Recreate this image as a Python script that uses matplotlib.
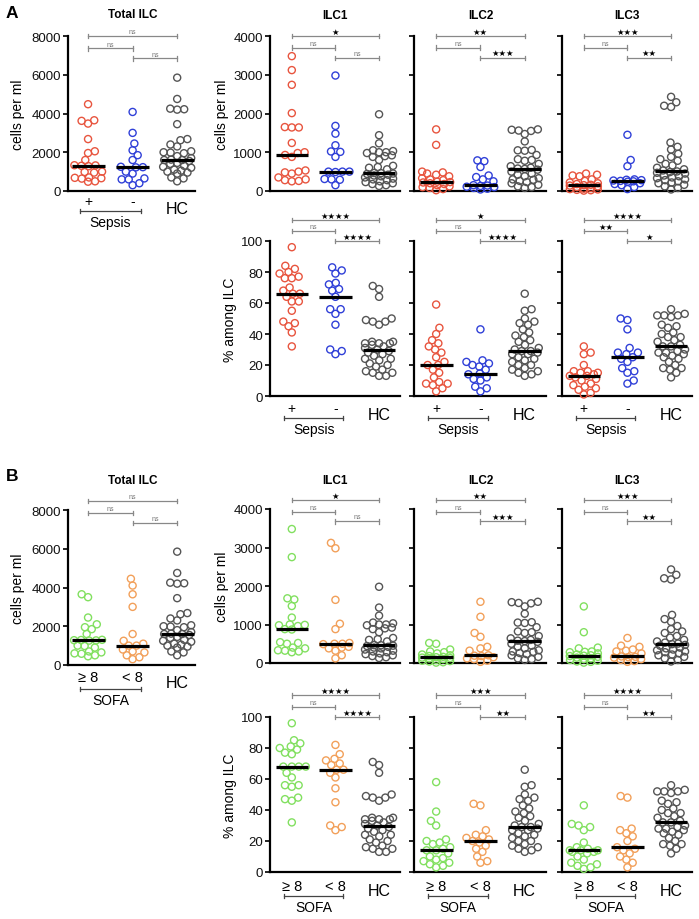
import numpy as np
import matplotlib
matplotlib.use("Agg")
import matplotlib.pyplot as plt
from matplotlib.transforms import blended_transform_factory

plt.rcParams['font.family'] = ['Liberation Sans', 'DejaVu Sans']

# ---------------- data ----------------
# cells per ml, Total ILC
tot_sep_pos = [4480, 3650, 3620, 3480, 2680, 2050, 1960, 1600, 1330, 1320, 1300, 1280, 1000, 980, 950, 700, 680, 660, 640, 500, 480]
tot_sep_neg = [4080, 3000, 2450, 2100, 1850, 1600, 1250, 1230, 1220, 1000, 900, 650, 600, 600, 400, 300]
tot_hc = [5850, 4750, 4250, 4220, 4200, 3450, 2680, 2620, 2400, 2300, 2050, 2000, 1980, 1950, 1800, 1700, 1620,
          1600, 1600, 1550, 1450, 1400, 1300, 1250, 1200, 1100, 1050, 1000, 950, 900, 700, 650, 500]
tot_sofa_hi = [3650, 3500, 2450, 2100, 1950, 1850, 1600, 1300, 1290, 1280, 1270, 1260, 1000, 980, 900, 700, 650, 600, 580, 500, 450]
tot_sofa_lo = [4450, 4100, 3650, 3000, 1600, 1250, 1100, 1000, 1000, 800, 700, 650, 500, 400, 300]

# cells per ml, ILC subsets
ilc1_pos = [3480, 3120, 2740, 2010, 1650, 1640, 1640, 1240, 1000, 980, 930, 880, 530, 500, 480, 450, 350, 300, 280, 260, 250]
ilc1_neg = [2980, 1680, 1480, 1180, 1020, 1010, 880, 500, 500, 500, 490, 310, 300, 290, 150]
ilc1_hc = [1980, 1440, 1230, 1050, 1030, 1000, 1000, 980, 920, 900, 880, 800, 650, 620, 600, 560, 465,
           440, 460, 450, 420, 400, 380, 350, 320, 300, 280, 250, 230, 200, 180, 150, 130]
ilc2_pos = [1590, 1190, 500, 480, 450, 420, 380, 330, 300, 280, 240, 230, 220, 200, 180, 150, 120, 100, 80, 50, 20]
ilc2_neg = [790, 770, 620, 400, 360, 300, 250, 150, 140, 130, 110, 100, 80, 60, 40]
ilc2_hc = [1590, 1580, 1560, 1550, 1470, 1280, 1060, 1050, 1040, 930, 820, 800, 780, 700, 640, 600, 580,
           570, 550, 500, 450, 420, 380, 330, 300, 290, 260, 230, 200, 160, 120, 100, 80]
ilc3_pos = [450, 420, 400, 380, 300, 260, 220, 200, 180, 160, 150, 140, 120, 100, 80, 60, 50, 40, 30, 20, 10]
ilc3_neg = [1450, 800, 640, 300, 290, 280, 270, 260, 250, 240, 200, 180, 150, 100, 50]
ilc3_hc = [2430, 2290, 2200, 2170, 1250, 1140, 1070, 960, 880, 820, 780, 700, 660, 600, 560, 530, 505,
           490, 470, 450, 400, 380, 350, 330, 300, 280, 250, 220, 200, 160, 120, 80, 40]
ilc1_hi = [3480, 2750, 1680, 1650, 1480, 1180, 1000, 990, 980, 960, 880, 870, 540, 520, 500, 400, 380, 330, 320, 300, 280]
ilc1_lo = [3120, 2980, 1640, 1020, 880, 520, 500, 500, 490, 420, 400, 380, 320, 200, 120]
ilc2_hi = [520, 500, 350, 300, 280, 250, 220, 200, 180, 160, 150, 140, 130, 120, 100, 80, 60, 50, 40, 20, 10]
ilc2_lo = [1590, 1200, 780, 680, 420, 380, 320, 200, 190, 180, 150, 120, 100, 60, 30]
ilc3_hi = [1470, 800, 400, 380, 300, 290, 280, 250, 220, 200, 190, 180, 160, 140, 120, 100, 80, 60, 40, 30, 10]
ilc3_lo = [650, 450, 420, 350, 320, 300, 250, 170, 160, 150, 140, 100, 80, 50, 30]

# % among ILC
p1_pos = [96, 84, 82, 80, 79, 77, 76, 76, 70, 68, 66, 66, 64, 61, 61, 55, 48, 47, 45, 41, 32]
p1_neg = [83, 81, 79, 73, 72, 69, 68, 64, 56, 56, 53, 46, 30, 29, 27]
p1_hc = [71, 69, 64, 50, 49, 48, 48, 46, 35, 35, 34, 34, 34, 33, 32, 31, 30, 29, 28, 27, 26, 24, 24, 23, 21, 20, 19, 17, 16, 15, 15, 13, 13]
p2_pos = [59, 44, 40, 36, 34, 32, 30, 28, 25, 22, 20, 20, 17, 15, 12, 9, 8, 8, 7, 5, 3]
p2_neg = [43, 23, 22, 21, 20, 19, 17, 14.5, 14, 12, 11, 10, 6, 5, 3]
p2_hc = [66, 56, 55, 50, 48, 47, 46, 43, 41, 39, 38, 36, 35, 33, 31, 30, 29, 29, 28, 27, 27, 25, 24, 23, 22, 20, 20, 18, 17, 16, 15, 14, 13]
p3_pos = [32, 28, 27, 20, 16, 16, 15, 15, 14, 13, 13, 12, 11, 10, 8, 7, 6, 5, 4, 2, 1]
p3_neg = [50, 49, 43, 31, 28, 28, 27, 25, 24, 22, 18, 16, 15, 10, 8]
p3_hc = [56, 53, 52, 52, 52, 51, 46, 45, 44, 41, 40, 38, 38, 36, 35, 33, 32, 32, 30, 29, 28, 28, 27, 26, 25, 24, 22, 20, 18, 18, 17, 15, 12]
p1_hi = [96, 85, 83, 81, 80, 79, 77, 76, 68, 68, 68, 68, 64, 61, 56, 56, 55, 48, 47, 46, 32]
p1_lo = [82, 76, 73, 72, 70, 69, 66, 66, 64, 61, 54, 45, 30, 29, 27]
p2_hi = [58, 39, 33, 30, 21, 20, 19, 18, 16, 15, 14, 14, 12, 10, 9, 8, 7, 6, 5, 4, 3]
p2_lo = [44, 43, 27, 24, 23, 22, 21, 20, 19, 17, 15, 13, 10, 7, 6]
p3_hi = [43, 31, 30, 29, 27, 19, 16, 15, 14, 14, 14, 13, 13, 12, 10, 8, 6, 5, 4, 3, 2]
p3_lo = [49, 48, 28, 27, 25, 23, 20, 16, 15, 14, 12, 10, 8, 6, 3]

# significance labels: (0 vs 2, 0 vs 1, 1 vs 2)
sig_tot = ['ns', 'ns', 'ns']
sig_a_cnt = [['★', 'ns', 'ns'], ['★★', 'ns', '★★★'], ['★★★', 'ns', '★★']]
sig_a_pct = [['★★★★', 'ns', '★★★★'], ['★', 'ns', '★★★★'], ['★★★★', '★★', '★']]
sig_b_cnt = [['★', 'ns', 'ns'], ['★★', 'ns', '★★★'], ['★★★', 'ns', '★★']]
sig_b_pct = [['★★★★', 'ns', '★★★★'], ['★★★', 'ns', '★★'], ['★★★★', 'ns', '★★']]

RED, BLUE, GRAY = '#e8553f', '#3040d8', '#555555'
GREEN, ORANGE = '#82e060', '#f2a05a'

W, H = 699, 920
fig = plt.figure(figsize=(W / 100, H / 100), dpi=100)


def new_axes(x0, x1, ytop, ybot, xlim, ylim, ticks, labels=True):
    ax = fig.add_axes([x0 / W, 1 - ybot / H, (x1 - x0) / W, (ybot - ytop) / H])
    ax.set_xlim(*xlim)
    ax.set_ylim(*ylim)
    ax.set_yticks(ticks)
    ax.set_xticks([])
    for s in ['top', 'right']:
        ax.spines[s].set_visible(False)
    for s in ['left', 'bottom']:
        ax.spines[s].set_linewidth(1.6)
    ax.tick_params(axis='y', direction='out', length=3.5, width=1.3, labelsize=9.5,
                   pad=1.5, labelleft=labels, colors='#111')
    ax.patch.set_alpha(0)
    ax.pxx = (x1 - x0) / (xlim[1] - xlim[0])
    ax.pxy = (ybot - ytop) / (ylim[1] - ylim[0])
    ax.hpx = ybot - ytop
    return ax


def swarm(vals, pxy, d=7.0, maxw=14.0):
    # beeswarm in pixel units; when too crowded, accept the least overlapping spot within maxw
    ys = np.asarray(vals, float) * pxy
    xs = np.zeros(len(ys))
    placed = []
    grid = np.arange(-maxw, maxw + 0.01, 1.0)
    for n, i in enumerate(np.argsort(ys, kind='stable')):
        y = ys[i]
        cands = [0.0]
        for j in placed:
            dy = y - ys[j]
            if abs(dy) < d:
                dx = np.sqrt(d * d - dy * dy)
                cands += [xs[j] + dx, xs[j] - dx]
        sgn = 1 if n % 2 else -1
        cands = [c for c in cands if abs(c) <= maxw]
        cands.sort(key=lambda c: (round(abs(c), 3), -c * sgn))

        def pen(c):
            return sum(max(0.0, d - np.hypot(c - xs[j], y - ys[j])) for j in placed)

        best = None
        for c in cands:
            if pen(c) < 1e-6:
                best = c
                break
        if best is None:
            best = min(grid, key=lambda c: (round(pen(c), 2), abs(c)))
        xs[i] = best
        placed.append(i)
    return xs


def strip(ax, groups, colors):
    for i, (vals, col) in enumerate(zip(groups, colors)):
        off = swarm(vals, ax.pxy) / ax.pxx
        ax.scatter(i + off, vals, s=26, facecolors='none', edgecolors=col,
                   linewidths=1.0, clip_on=False, zorder=3)
        m = np.median(vals)
        ax.plot([i - 0.37, i + 0.37], [m, m], color='black', lw=2.3,
                solid_capstyle='butt', zorder=4)


def brackets(ax, labels, levels):
    tr = blended_transform_factory(ax.transData, ax.transAxes)
    cap = 2.2 / ax.hpx
    for (a, b), lab, yf in zip([(0, 2), (0, 1), (1, 2)], labels, levels):
        ax.plot([a, b], [yf, yf], transform=tr, color='#888888', lw=0.9, clip_on=False)
        for xx in (a, b):
            ax.plot([xx, xx], [yf - cap, yf + cap], transform=tr, color='#888888',
                    lw=0.9, clip_on=False)
        if lab == 'ns':
            ax.annotate('ns', ((a + b) / 2, yf), xycoords=tr, xytext=(0, 0.6),
                        textcoords='offset points', ha='center', va='bottom',
                        fontsize=5, color='#777777')
        else:
            ax.annotate(lab, ((a + b) / 2, yf), xycoords=tr, xytext=(0, 0.3),
                        textcoords='offset points', ha='center', va='bottom',
                        fontsize=6, color='black', family=['DejaVu Sans'])


def title(ax, txt, dy_px):
    tr = blended_transform_factory(ax.transData, ax.transAxes)
    ax.annotate(txt, (1, 1), xycoords=tr, xytext=(0, dy_px * 0.72), textcoords='offset points',
                ha='center', va='center', fontsize=8.5, fontweight='bold')


def xlabels(ax, names, group, d_lab, d_hc, d_br, d_grp, fs=10.5):
    tr = blended_transform_factory(ax.transData, ax.transAxes)
    for i, nm in enumerate(names):
        ax.annotate(nm, (i, 0), xycoords=tr, xytext=(0, -d_lab * 0.72), textcoords='offset points',
                    ha='center', va='center', fontsize=fs)
    ax.annotate('HC', (2, 0), xycoords=tr, xytext=(0, -d_hc * 0.72), textcoords='offset points',
                ha='center', va='center', fontsize=11.5)
    yb = -d_br / ax.hpx
    cap = 2.2 / ax.hpx
    ax.plot([-0.18, 1.18], [yb, yb], transform=tr, color='#444', lw=0.9, clip_on=False)
    for xx in (-0.18, 1.18):
        ax.plot([xx, xx], [yb - cap, yb + cap], transform=tr, color='#444', lw=0.9, clip_on=False)
    ax.annotate(group, (0.5, 0), xycoords=tr, xytext=(0, -d_grp * 0.72), textcoords='offset points',
                ha='center', va='center', fontsize=10)


cols = [(270, 400), (414, 546), (562, 692)]
ilc_xlim = (-0.5, 2.48)
tot_xlim = (-0.45, 2.4)

# ---------------- panel A ----------------
ax = new_axes(68, 195, 37, 192, tot_xlim, (0, 8000), range(0, 8001, 2000))
strip(ax, [tot_sep_pos, tot_sep_neg, tot_hc], [RED, BLUE, GRAY])
brackets(ax, sig_tot, [1.0, 0.92, 0.855])
title(ax, 'Total ILC', 22)
ax.set_ylabel('cells per ml', fontsize=10, labelpad=5)
xlabels(ax, ['+', '-'], 'Sepsis', 10, 17, 20, 31, fs=10)

for k, (grp, sig, nm) in enumerate(zip(
        [[ilc1_pos, ilc1_neg, ilc1_hc], [ilc2_pos, ilc2_neg, ilc2_hc], [ilc3_pos, ilc3_neg, ilc3_hc]],
        sig_a_cnt, ['ILC1', 'ILC2', 'ILC3'])):
    ax = new_axes(cols[k][0], cols[k][1], 37, 192, ilc_xlim, (0, 4000), range(0, 4001, 1000), k == 0)
    strip(ax, grp, [RED, BLUE, GRAY])
    brackets(ax, sig, [1.0, 0.925, 0.86])
    title(ax, nm, 21)
    if k == 0:
        ax.set_ylabel('cells per ml', fontsize=10, labelpad=3)

for k, (grp, sig) in enumerate(zip(
        [[p1_pos, p1_neg, p1_hc], [p2_pos, p2_neg, p2_hc], [p3_pos, p3_neg, p3_hc]], sig_a_pct)):
    ax = new_axes(cols[k][0], cols[k][1], 242, 397, ilc_xlim, (0, 100), range(0, 101, 20), k == 0)
    strip(ax, grp, [RED, BLUE, GRAY])
    brackets(ax, sig, [1.135, 1.065, 1.0])
    xlabels(ax, ['+', '-'], 'Sepsis', 12, 19, 22, 33, fs=10)
    if k == 0:
        ax.set_ylabel('% among ILC', fontsize=10, labelpad=3)

# ---------------- panel B ----------------
ax = new_axes(68, 195, 511, 666, tot_xlim, (0, 8000), range(0, 8001, 2000))
strip(ax, [tot_sofa_hi, tot_sofa_lo, tot_hc], [GREEN, ORANGE, GRAY])
brackets(ax, sig_tot, [1.058, 0.98, 0.916])
title(ax, 'Total ILC', 30)
ax.set_ylabel('cells per ml', fontsize=10, labelpad=5)
xlabels(ax, ['≥ 8', '< 8'], 'SOFA', 12, 18, 24, 35)

for k, (grp, sig, nm) in enumerate(zip(
        [[ilc1_hi, ilc1_lo, ilc1_hc], [ilc2_hi, ilc2_lo, ilc2_hc], [ilc3_hi, ilc3_lo, ilc3_hc]],
        sig_b_cnt, ['ILC1', 'ILC2', 'ILC3'])):
    ax = new_axes(cols[k][0], cols[k][1], 510, 664, ilc_xlim, (0, 4000), range(0, 4001, 1000), k == 0)
    strip(ax, grp, [GREEN, ORANGE, GRAY])
    brackets(ax, sig, [1.058, 0.98, 0.92])
    title(ax, nm, 29)
    if k == 0:
        ax.set_ylabel('cells per ml', fontsize=10, labelpad=3)

for k, (grp, sig) in enumerate(zip(
        [[p1_hi, p1_lo, p1_hc], [p2_hi, p2_lo, p2_hc], [p3_hi, p3_lo, p3_hc]], sig_b_pct)):
    ax = new_axes(cols[k][0], cols[k][1], 718, 873, ilc_xlim, (0, 100), range(0, 101, 20), k == 0)
    strip(ax, grp, [GREEN, ORANGE, GRAY])
    brackets(ax, sig, [1.14, 1.065, 1.0])
    xlabels(ax, ['≥ 8', '< 8'], 'SOFA', 14, 19, 24, 35)
    if k == 0:
        ax.set_ylabel('% among ILC', fontsize=10, labelpad=3)

fig.text(12 / W, 1 - 14 / H, 'A', fontsize=12.5, fontweight='bold', ha='center', va='center')
fig.text(12 / W, 1 - 477 / H, 'B', fontsize=12.5, fontweight='bold', ha='center', va='center')

fig.savefig('out.png', dpi=100, facecolor='white')
